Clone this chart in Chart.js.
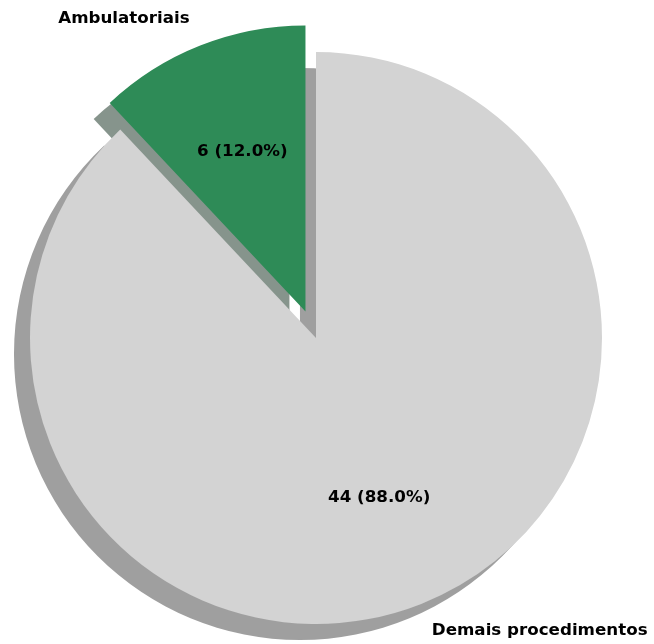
<!DOCTYPE html>
<html>
<head>
<meta charset="utf-8">
<script src="https://cdn.jsdelivr.net/npm/chart.js@4.4.1/dist/chart.umd.min.js"></script>
<style>
  html, body { margin: 0; padding: 0; background: #ffffff; }
  canvas { display: block; }
</style>
</head>
<body>
<canvas id="pie" width="654" height="644"></canvas>
<script>
// Procedure counts by type
const categories = ['Ambulatoriais', 'Demais procedimentos'];
const counts = [6, 44];
const sliceColors = ['#2e8b57', '#d3d3d3'];

const total = counts.reduce((a, b) => a + b, 0);
const LABEL_FONT = 'bold 16.7px "DejaVu Sans", sans-serif';

// Darkened, half-transparent copy of a slice colour for its drop shadow
function shadowColor(hex, k) {
  const n = parseInt(hex.slice(1), 16);
  const r = Math.round(((n >> 16) & 255) * k);
  const g = Math.round(((n >> 8) & 255) * k);
  const b = Math.round((n & 255) * k);
  return `rgba(${r},${g},${b},0.5)`;
}

// Pull selected slices out from the centre along their bisector
const explodePlugin = {
  id: 'explode',
  afterDatasetsUpdate(chart, args, opts) {
    const meta = chart.getDatasetMeta(0);
    meta.data.forEach((arc, i) => {
      const f = (opts.fractions || [])[i] || 0;
      if (!f) return;
      const mid = (arc.startAngle + arc.endAngle) / 2;
      arc.x += Math.cos(mid) * f * arc.outerRadius;
      arc.y += Math.sin(mid) * f * arc.outerRadius;
    });
  }
};

// Drop shadow under every slice, offset down and to the left
const shadowPlugin = {
  id: 'pieShadow',
  beforeDatasetsDraw(chart, args, opts) {
    const ctx = chart.ctx;
    const meta = chart.getDatasetMeta(0);
    meta.data.forEach((arc, i) => {
      const { x, y, startAngle, endAngle, outerRadius } = arc;
      const d = opts.offset * outerRadius;
      ctx.save();
      ctx.fillStyle = shadowColor(sliceColors[i], 0.3);
      ctx.beginPath();
      ctx.moveTo(x - d, y + d);
      ctx.arc(x - d, y + d, outerRadius, startAngle, endAngle);
      ctx.closePath();
      ctx.fill();
      ctx.restore();
    });
  }
};

// Count/percentage inside each slice and the category name outside it
const sliceLabels = {
  id: 'sliceLabels',
  afterDatasetsDraw(chart, args, opts) {
    const ctx = chart.ctx;
    const meta = chart.getDatasetMeta(0);
    ctx.save();
    ctx.font = LABEL_FONT;
    ctx.fillStyle = '#000000';
    ctx.textBaseline = 'middle';
    meta.data.forEach((arc, i) => {
      const mid = (arc.startAngle + arc.endAngle) / 2;
      const c = Math.cos(mid), s = Math.sin(mid);
      const r = arc.outerRadius;
      const pct = (counts[i] / total * 100).toFixed(1);
      ctx.textAlign = 'center';
      ctx.fillText(`${counts[i]} (${pct}%)`, arc.x + c * opts.pctDistance * r, arc.y + s * opts.pctDistance * r);
      ctx.textAlign = c < 0 ? 'right' : 'left';
      ctx.fillText(categories[i], arc.x + c * opts.labelDistance * r, arc.y + s * opts.labelDistance * r);
    });
    ctx.restore();
  }
};

new Chart(document.getElementById('pie'), {
  type: 'pie',
  data: {
    labels: categories,
    datasets: [{
      data: counts,
      backgroundColor: sliceColors,
      borderWidth: 0,
      hoverOffset: 0
    }]
  },
  options: {
    responsive: false,
    animation: false,
    events: [],
    // first slice runs from 12 o'clock counter-clockwise
    rotation: -360 * counts[0] / total,
    layout: { padding: { left: 30, top: 52, right: 52, bottom: 20 } },
    plugins: {
      legend: { display: false },
      tooltip: { enabled: false },
      explode: { fractions: [0.1, 0] },
      pieShadow: { offset: 0.056 },
      sliceLabels: { pctDistance: 0.6, labelDistance: 1.1 }
    }
  },
  plugins: [explodePlugin, shadowPlugin, sliceLabels]
});
</script>
</body>
</html>
